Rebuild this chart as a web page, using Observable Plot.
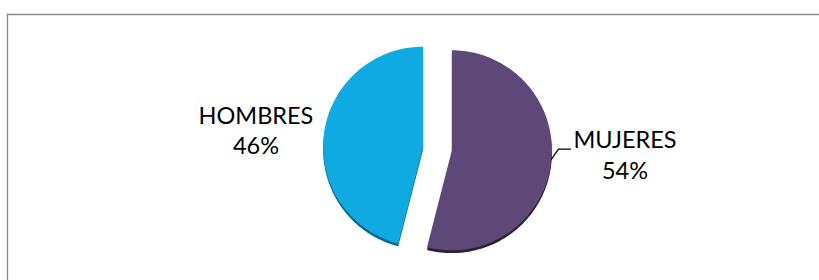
<!DOCTYPE html>
<html>
<head>
<meta charset="utf-8">
<script src="https://cdn.jsdelivr.net/npm/d3@7"></script>
<script src="https://cdn.jsdelivr.net/npm/@observablehq/plot@0.6"></script>
<style>
  html, body { margin: 0; padding: 0; background: #fff; }
</style>
</head>
<body>
<div id="chart"></div>
<script>
// Data
const categories = ["MUJERES", "HOMBRES"];
const values = [54, 46];
const colors = ["#5d4877", "#10aae2"];
const shadowColors = ["#2c2138", "#0a6a8d"];

// Layout
const W = 819, H = 280;
const cx = 437, cy = 148, R = 100; // pixels
const explode = 0.145;             // unit radii
const labelRadius = 1.86;

const total = d3.sum(values);
let acc = 0;
const slices = categories.map((name, i) => {
  const a0 = acc / total * 2 * Math.PI;
  acc += values[i];
  const a1 = acc / total * 2 * Math.PI;
  const mid = (a0 + a1) / 2;
  const ox = Math.sin(mid) * explode, oy = Math.cos(mid) * explode;
  return {name, value: values[i], pct: Math.round(values[i] / total * 100), a0, a1, mid, ox, oy, i};
});

function slicePoints(s, shiftY = 0) {
  const pts = [{name: s.name, x: s.ox, y: s.oy + shiftY}];
  const n = 120;
  for (let k = 0; k <= n; k++) {
    const a = s.a0 + (s.a1 - s.a0) * k / n;
    pts.push({name: s.name, x: s.ox + Math.sin(a), y: s.oy + Math.cos(a) + shiftY});
  }
  return pts;
}

const slicePts = slices.flatMap(s => slicePoints(s));
const shadowPts = slices.flatMap(s => slicePoints(s, -0.028));

const labels = slices.map(s => ({
  name: s.name,
  text: s.name + "\n" + s.pct + "%",
  x: Math.sin(s.mid) * labelRadius,
  y: Math.cos(s.mid) * labelRadius
}));

// leader line for MUJERES label
const mj = slices[0];
const la = 95 / 180 * Math.PI;
const lx0 = mj.ox + Math.sin(la), ly0 = mj.oy + Math.cos(la);
const leader = [
  {x: lx0, y: ly0},
  {x: lx0 + 0.07, y: ly0 + 0.10},
  {x: lx0 + 0.19, y: ly0 + 0.10}
];

const plot = Plot.plot({
  width: W,
  height: H,
  marginTop: 14,
  marginLeft: 7,
  marginRight: 0,
  marginBottom: 0,
  x: {domain: [-1, 1], range: [cx - R, cx + R], axis: null},
  y: {domain: [-1, 1], range: [cy + R, cy - R], axis: null},
  color: {domain: categories, range: colors},
  style: {fontFamily: "Lato, sans-serif", background: "#fff"},
  marks: [
    Plot.frame({anchor: "top", stroke: "#8a8a8a", strokeWidth: 1.3}),
    Plot.frame({anchor: "left", stroke: "#8a8a8a", strokeWidth: 1.3}),
    Plot.line(shadowPts, {x: "x", y: "y", z: "name", fill: d => shadowColors[categories.indexOf(d.name)], stroke: "none", curve: "linear-closed"}),
    Plot.line(slicePts, {x: "x", y: "y", z: "name", fill: "name", stroke: "none", curve: "linear-closed"}),
    Plot.line(leader, {x: "x", y: "y", stroke: "#000", strokeWidth: 1.3}),
    Plot.text(labels.filter(d => d.name === "HOMBRES"), {x: "x", y: "y", text: "text", fontSize: 23.5, lineHeight: 1.3, fill: "#000", dx: 3, dy: 4}),
    Plot.text(labels.filter(d => d.name === "MUJERES"), {x: "x", y: "y", text: "text", fontSize: 23.5, lineHeight: 1.3, fill: "#000", dx: 3, dy: -18})
  ]
});
document.getElementById("chart").appendChild(plot);
</script>
</body>
</html>
